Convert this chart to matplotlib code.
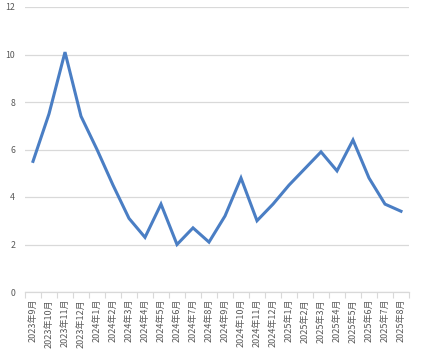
import matplotlib
matplotlib.use("Agg")
import matplotlib.pyplot as plt
import numpy as np

months = ["2023年9月", "2023年10月", "2023年11月", "2023年12月",
          "2024年1月", "2024年2月", "2024年3月", "2024年4月", "2024年5月", "2024年6月",
          "2024年7月", "2024年8月", "2024年9月", "2024年10月", "2024年11月", "2024年12月",
          "2025年1月", "2025年2月", "2025年3月", "2025年4月", "2025年5月", "2025年6月",
          "2025年7月", "2025年8月"]
values = [5.5, 7.5, 10.1, 7.4, 6.0, 4.5, 3.1, 2.3, 3.7, 2.0, 2.7, 2.1,
          3.2, 4.8, 3.0, 3.7, 4.5, 5.2, 5.9, 5.1, 6.4, 4.8, 3.7, 3.4]
yticks = [0, 2, 4, 6, 8, 10, 12]

plt.rcParams['font.family'] = ['Noto Sans CJK SC', 'DejaVu Sans']

W, H = 431, 361
fig = plt.figure(figsize=(W / 100, H / 100), dpi=100)
ax = fig.add_axes([25 / W, (H - 292) / H, (409 - 25) / W, (292 - 7) / H])

x = np.arange(len(months))
ax.plot(x, values, color="#4A7EC4", linewidth=2.2, solid_joinstyle="miter")

ax.set_xlim(-0.5, len(months) - 0.5)
ax.set_ylim(0, 12)
ax.set_yticks(yticks)
ax.set_yticklabels([str(t) for t in yticks], fontsize=6.3, color="#595959")
ax.tick_params(axis="y", length=0, pad=7)
ax.grid(axis="y", color="#d9d9d9", linewidth=0.9)
ax.set_axisbelow(True)

ax.set_xticks(x)
ax.set_xticklabels(months, rotation=90, fontsize=6.5, color="#595959")
ax.tick_params(axis="x", which="major", length=0, pad=5)
ax.set_xticks(np.arange(-0.5, len(months), 1), minor=True)
ax.tick_params(axis="x", which="minor", length=4, color="#d9d9d9", width=0.8)

for s in ["top", "right", "left"]:
    ax.spines[s].set_visible(False)
ax.spines["bottom"].set_color("#d9d9d9")
ax.spines["bottom"].set_linewidth(0.9)

fig.savefig("out.png", dpi=100)
